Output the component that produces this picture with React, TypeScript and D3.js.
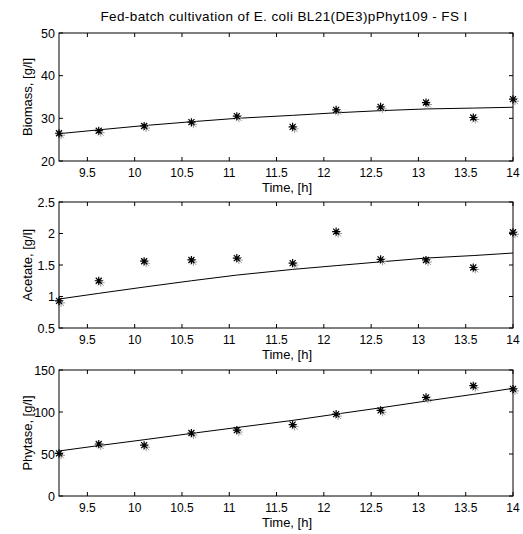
import React from 'react';
import * as d3 from 'd3';

// sampling times, [h]
const times = [9.2, 9.62, 10.1, 10.6, 11.08, 11.67, 12.13, 12.6, 13.08, 13.58, 14.0];

// measured values
const biomass = [26.5, 27.1, 28.2, 29.1, 30.5, 28.0, 32.0, 32.7, 33.7, 30.2, 34.5];
const acetate = [0.93, 1.25, 1.56, 1.58, 1.61, 1.53, 2.03, 1.59, 1.58, 1.46, 2.02];
const phytase = [50.8, 61.9, 60.5, 75.0, 78.5, 85.0, 97.5, 102.0, 117.5, 131.3, 127.5];

// model fit
const biomassFit = [26.4, 27.3, 28.3, 29.2, 30.0, 30.7, 31.3, 31.8, 32.2, 32.4, 32.6];
const acetateFit = [0.96, 1.05, 1.15, 1.25, 1.34, 1.43, 1.49, 1.55, 1.61, 1.65, 1.69];
const phytaseFit = [53.6, 60.0, 67.0, 74.5, 81.5, 90.0, 97.5, 105.0, 113.0, 121.0, 128.2];

const xTicks = [9.5, 10, 10.5, 11, 11.5, 12, 12.5, 13, 13.5, 14];
const biomassTicks = [20, 30, 40, 50];
const acetateTicks = [0.5, 1, 1.5, 2, 2.5];
const phytaseTicks = [0, 50, 100, 150];

const title = 'Fed-batch cultivation of E. coli BL21(DE3)pPhyt109 - FS I';

const W = 523, H = 534;
const left = 59, right = 513;
const font = 'Arial, "Liberation Sans", sans-serif';

const x = d3.scaleLinear().domain([9.2, 14]).range([left, right]);

// matlab style '*' marker
const star = 'M-4,0H4M0,-4V4M-3,-3L3,3M-3,3L3,-3';

type PanelProps = {
  top: number; bottom: number; label: string;
  data: number[]; fit: number[]; ticks: number[];
};

const Panel = ({top, bottom, label, data, fit, ticks}: PanelProps) => {
  const y = d3.scaleLinear().domain([ticks[0], ticks[ticks.length - 1]]).range([bottom, top]);
  const line = d3.line<number>().x((d, i) => x(times[i])).y(d => y(d));
  const tl = 4;
  return (
    <g>
      <path d={line(fit) || ''} fill="none" stroke="#000" strokeWidth={1} />
      {data.map((v, i) => (
        <g key={i}>
          <path d={star} transform={`translate(${x(times[i]) + 2},${y(v) + 2})`} stroke="#999" strokeWidth={1} fill="none" />
          <path d={star} transform={`translate(${x(times[i])},${y(v)})`} stroke="#000" strokeWidth={1.2} fill="none" />
        </g>
      ))}
      <rect x={left} y={top} width={right - left} height={bottom - top} fill="none" stroke="#000" strokeWidth={1} />
      {xTicks.map(t => (
        <g key={t}>
          <line x1={x(t)} x2={x(t)} y1={bottom} y2={bottom - tl} stroke="#000" />
          <line x1={x(t)} x2={x(t)} y1={top} y2={top + tl} stroke="#000" />
          <text x={x(t)} y={bottom + 16} textAnchor="middle" fontSize={12} fontFamily={font}>{t}</text>
        </g>
      ))}
      {ticks.map(t => (
        <g key={t}>
          <line x1={left} x2={left + tl} y1={y(t)} y2={y(t)} stroke="#000" />
          <line x1={right} x2={right - tl} y1={y(t)} y2={y(t)} stroke="#000" />
          <text x={left - 4} y={y(t) + 4.5} textAnchor="end" fontSize={12.5} fontFamily={font}>{t}</text>
        </g>
      ))}
      <text x={(left + right) / 2 + 1} y={bottom + 31} textAnchor="middle" fontSize={13} fontFamily={font}>Time, [h]</text>
      <text transform={`translate(${32},${(top + bottom) / 2}) rotate(-90)`} textAnchor="middle" fontSize={13} fontFamily={font}>{label}</text>
    </g>
  );
};

const App = () => (
  <svg width={W} height={H} style={{position: 'absolute', left: 0, top: 0, background: '#fff'}}>
    <text x={(left + right) / 2 - 2} y={21} textAnchor="middle" fontSize={13.5} letterSpacing={0.4} fontFamily={font}>{title}</text>
    <Panel top={33} bottom={161} label="Biomass, [g/l]" data={biomass} fit={biomassFit} ticks={biomassTicks} />
    <Panel top={202} bottom={328} label="Acetate, [g/l]" data={acetate} fit={acetateFit} ticks={acetateTicks} />
    <Panel top={370} bottom={496} label="Phytase, [g/l]" data={phytase} fit={phytaseFit} ticks={phytaseTicks} />
  </svg>
);

export default App;
